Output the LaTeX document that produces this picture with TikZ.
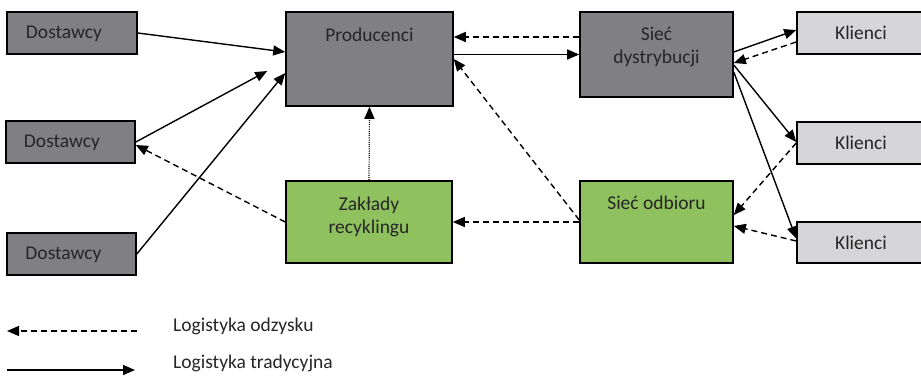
\documentclass[tikz,border=0pt]{standalone}
\usepackage{fontspec}
\setmainfont{Carlito}
\usetikzlibrary{arrows.meta}
\definecolor{boxgray}{HTML}{7F7F84}
\definecolor{boxgreen}{HTML}{8FC15E}
\definecolor{boxlight}{HTML}{D6D6D8}
\definecolor{inkgray}{HTML}{262626}

\begin{document}
\begin{tikzpicture}
[x=1pt, y=-1pt, every node/.style={inner sep=0pt},
 box/.style={rectangle, line width=1.6pt, draw=black},
 txt/.style={text=inkgray, font=\fontsize{19.5}{23}\selectfont, align=center},
 flow/.style={line width=1.4pt, -{Triangle[length=12pt, width=10pt]}, color=black},
 back/.style={flow, dash pattern=on 6pt off 4pt}]
\useasboundingbox (0,0) rectangle (921,377);
\node (sup1) [box, fill=boxgray, minimum width=130pt, minimum height=42pt] at (72, 33) {};
\node (sup2) [box, fill=boxgray, minimum width=129pt, minimum height=42pt] at (70.5, 142) {};
\node (sup3) [box, fill=boxgray, minimum width=129pt, minimum height=42pt] at (71.5, 254) {};
\node (prod) [box, fill=boxgray, minimum width=167pt, minimum height=94pt] at (369.5, 59) {};
\node (recyc) [box, fill=boxgreen, minimum width=166pt, minimum height=82pt] at (369, 222) {};
\node (dist) [box, fill=boxgray, minimum width=153pt, minimum height=85pt] at (656.5, 54.5) {};
\node (coll) [box, fill=boxgreen, minimum width=153pt, minimum height=82pt] at (656.5, 222) {};
\node (cli1) [box, fill=boxlight, minimum width=128pt, minimum height=42pt] at (861, 33) {};
\node (cli2) [box, fill=boxlight, minimum width=128pt, minimum height=42pt] at (861, 143) {};
\node (cli3) [box, fill=boxlight, minimum width=128pt, minimum height=41pt] at (861, 242.5) {};
% box texts
\node (sup1t) [txt] at (64, 34) {Dostawcy};
\node (sup2t) [txt] at (62, 143) {Dostawcy};
\node (sup3t) [txt] at (63.5, 255) {Dostawcy};
\node (prodt) [txt, anchor=north, yshift=-17pt] at (prod.north) {Producenci};
\node (recyct) [txt, anchor=north, yshift=-17pt] at (recyc.north) {Zakłady\\recyklingu};
\node (distt) [txt, anchor=north, yshift=-16pt] at (dist.north) {Sieć\\dystrybucji};
\node (collt) [txt, anchor=north, yshift=-16pt] at (coll.north) {Sieć odbioru};
\node (cli1t) [txt] at (cli1) {Klienci};
\node (cli2t) [txt] at (cli2) {Klienci};
\node (cli3t) [txt] at (cli3) {Klienci};
% traditional flow
\draw [flow] (sup1.east) to ([yshift=7pt]prod.west);
\draw [flow] (sup2.east) to ([xshift=-18pt, yshift=-12pt]prod.west);
\draw [flow] (sup3.east) to ([yshift=-14pt]prod.west);
\draw [flow] ([yshift=4.5pt]prod.east) to (dist.west);
\draw [flow] ([yshift=2.5pt]dist.east) to ([yshift=3pt]cli1.west);
\draw [flow] ([yshift=-10.5pt]dist.east) to ([yshift=1pt]cli2.west);
\draw [flow] ([yshift=-17.5pt]dist.east) to ([yshift=4pt]cli3.west);
% reverse flow
\draw [back] ([yshift=17.5pt]dist.west) to ([yshift=22pt]prod.east);
\draw [back] ([yshift=-9pt]cli1.west) to ([yshift=-8.5pt]dist.east);
\draw [back] (cli2.west) to ([yshift=7pt]coll.east);
\draw [back] ([yshift=1.5pt]cli3.west) to ([yshift=-4pt]coll.east);
\draw [back] ([yshift=2pt]coll.west) to (prod.east);
\draw [back] (coll.west) to (recyc.east);
\draw [back] (recyc.west) to ([yshift=-3pt]sup2.east);
\draw [line width=1.2pt, dash pattern=on 1pt off 1.2pt, -{Triangle[length=12pt, width=10pt]}] (recyc.north) to (prod.south);
% legend
\coordinate (odz1) at (137, 331);
\coordinate (odz0) at (7, 331);
\draw [back] (odz1) to (odz0);
\node (odzt) [txt, anchor=west] at (173, 326) {Logistyka odzysku};
\coordinate (tra0) at (7, 370);
\coordinate (tra1) at (135, 370);
\draw [flow] (tra0) to (tra1);
\node (trat) [txt, anchor=west] at (173, 363) {Logistyka tradycyjna};

\end{tikzpicture}
\end{document}
